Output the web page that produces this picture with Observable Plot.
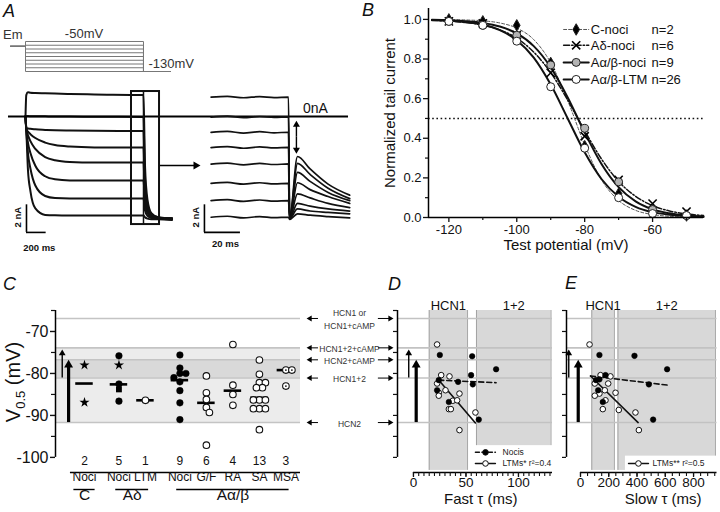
<!DOCTYPE html>
<html>
<head>
<meta charset="utf-8">
<script src="https://cdn.jsdelivr.net/npm/d3@7"></script>
<script src="https://cdn.jsdelivr.net/npm/@observablehq/plot@0.6"></script>
<style>
  html, body { margin: 0; padding: 0; background: #fff; }
  #fig { position: relative; width: 720px; height: 512px; overflow: hidden; background: #fff;
         font-family: "Liberation Sans", Arial, Helvetica, sans-serif; color: #111; }
  #fig svg { position: absolute; overflow: visible; }
  .panel { position: absolute; font-style: italic; font-size: 18px; line-height: 1; }
  .ylab { position: absolute; white-space: nowrap; transform: translate(-50%, -50%) rotate(-90deg); }
</style>
</head>
<body>
<div id="fig">
  <div class="panel" style="left:3px;top:2px">A</div>
  <div class="panel" style="left:362px;top:1px">B</div>
  <div class="panel" style="left:3px;top:275px">C</div>
  <div class="panel" style="left:388px;top:275px">D</div>
  <div class="panel" style="left:565px;top:274px">E</div>
  <div class="ylab" style="left:15px;top:382px;font-size:20px">V<sub style="font-size:13px">0.5</sub> (mV)</div>
</div>
<script>
// ================= DATA =================
// Panel A – voltage protocol (mV) and current traces (nA, ms)
const protoLevels = [-50, -60, -70, -80, -90, -100, -110, -120, -130];
const protoEm = -63;
const protoTail = -130;
const protoTimes = [-152, 0, 1200, 1475]; // holding start, step on, step off, end

const stepTimes = [0, 8, 25, 50, 100, 200, 300, 450, 700, 1200, 1215, 1240, 1280, 1350, 1490];
const stepTraces = [
  [0, 1.55, 1.75, 1.72, 1.70, 1.68, 1.66, 1.63, 1.60, 1.55, -3.5, -6.0, -7.0, -7.3, -7.4],
  [0, 0.02, 0.03, 0.02, 0.02, 0.01, 0.0, 0.0, -0.02, -0.03, -4.5, -6.4, -7.1, -7.3, -7.4],
  [0, -0.85, -0.87, -0.89, -0.93, -0.97, -1.0, -1.02, -1.04, -1.05, -5.0, -6.6, -7.15, -7.35, -7.4],
  [0, -0.9, -1.1, -1.28, -1.56, -1.89, -2.07, -2.18, -2.24, -2.25, -5.4, -6.8, -7.2, -7.35, -7.4],
  [0, -0.9, -1.35, -1.79, -2.35, -2.94, -3.17, -3.29, -3.33, -3.33, -5.9, -6.9, -7.25, -7.35, -7.4],
  [0, -0.9, -1.9, -2.64, -3.57, -4.33, -4.55, -4.63, -4.64, -4.64, -6.3, -7.0, -7.3, -7.4, -7.45],
  [0, -0.95, -2.65, -3.77, -5.0, -5.76, -5.91, -5.94, -5.94, -5.94, -6.8, -7.2, -7.35, -7.4, -7.45],
  [0, -1.0, -3.87, -5.4, -6.66, -7.13, -7.16, -7.17, -7.17, -7.17, -7.3, -7.4, -7.45, -7.45, -7.5]
];
const zoomWindow = [1078, 1363, -7.83, 1.81]; // t1, t2, I1, I2 of the boxed region

const tailTimes = [-43, -34, -25, -16, -8, 0, 0.6, 5, 12, 22, 34];
const tailTraces = [
  [1.40, 1.46, 1.36, 1.44, 1.37, 1.40, -7.4, -2.9, -3.8, -4.9, -5.7],
  [-0.05, 0.02, -0.08, 0.0, -0.06, -0.03, -7.4, -3.4, -4.2, -5.2, -5.95],
  [-1.15, -1.08, -1.2, -1.1, -1.18, -1.14, -7.4, -4.05, -4.7, -5.5, -6.1],
  [-2.25, -2.18, -2.3, -2.2, -2.28, -2.24, -7.4, -4.8, -5.3, -5.8, -6.3],
  [-3.45, -3.38, -3.5, -3.4, -3.48, -3.44, -7.4, -5.6, -5.9, -6.3, -6.6],
  [-4.85, -4.78, -4.9, -4.8, -4.88, -4.84, -7.4, -6.3, -6.5, -6.7, -6.85],
  [-6.1, -6.03, -6.15, -6.05, -6.13, -6.09, -7.4, -6.7, -6.85, -6.95, -7.05],
  [-7.3, -7.23, -7.35, -7.25, -7.33, -7.3, -7.45, -7.05, -7.15, -7.25, -7.35]
];

// Panel B – normalized tail current
const bSeriesNames = ["C-noci", "Aδ-noci", "Aα/β-noci", "Aα/β-LTM"];
const bSeriesN = ["n=2", "n=6", "n=9", "n=26"];
const bPotentials = [-120, -110, -100, -90, -80, -70, -60, -50];
const bCNoci   = [1.00, 0.99, 0.97, 0.78, 0.36, 0.12, 0.03, 0.01];
const bADNoci  = [0.99, 0.98, 0.92, 0.73, 0.41, 0.19, 0.07, 0.03];
const bAabNoci = [0.99, 0.97, 0.92, 0.77, 0.45, 0.18, 0.04, 0.01];
const bAabLTM  = [0.99, 0.97, 0.89, 0.66, 0.35, 0.10, 0.02, 0.01];
const bFitV    = [-125, -120, -115, -110, -105, -100, -95, -90, -85, -80, -75, -70, -65, -60, -55, -50, -45];
const bFitC    = [0.999, 0.999, 0.997, 0.993, 0.982, 0.956, 0.898, 0.781, 0.590, 0.367, 0.189, 0.086, 0.036, 0.015, 0.006, 0.002, 0.001];
const bFitAD   = [0.995, 0.991, 0.984, 0.971, 0.947, 0.905, 0.835, 0.731, 0.593, 0.438, 0.294, 0.182, 0.107, 0.060, 0.033, 0.018, 0.010];
const bFitAabN = [0.998, 0.996, 0.991, 0.982, 0.964, 0.929, 0.865, 0.758, 0.606, 0.429, 0.269, 0.153, 0.081, 0.041, 0.021, 0.010, 0.005];
const bFitLTM  = [0.997, 0.993, 0.986, 0.973, 0.946, 0.895, 0.807, 0.671, 0.500, 0.329, 0.193, 0.105, 0.054, 0.027, 0.014, 0.007, 0.003];

// Panel C – V0.5 per afferent type
const cLabels = ["Noci", "Noci", "LTM", "Noci", "G/F", "RA", "SA", "MSA"];
const cCounts = [2, 5, 1, 9, 6, 4, 13, 3];
const cGroupOf = ["C", "Aδ", "Aδ", "Aα/β", "Aα/β", "Aα/β", "Aα/β", "Aα/β"];
const cGroupNames = ["C", "Aδ", "Aα/β"];
const cMeans = [-82.4, -82.6, -86.4, -81.6, -87.0, -84.1, -85.8, -79.2];
const cPoints = [ // [category index, V0.5 (mV), marker]
  [0, -78.0, "star"], [0, -86.9, "star"],
  [1, -75.8, "filled"], [1, -78.0, "star"], [1, -82.5, "filled"], [1, -83.8, "square"], [1, -86.6, "filled"],
  [2, -86.4, "open"],
  [3, -75.6, "filled"], [3, -78.7, "filled"], [3, -80.0, "filled"], [3, -80.0, "filled"], [3, -81.0, "filled"],
  [3, -82.0, "filled"], [3, -84.1, "filled"], [3, -87.0, "filled"], [3, -91.0, "filled"],
  [4, -80.6, "open"], [4, -84.6, "open"], [4, -86.2, "open"], [4, -88.1, "open"], [4, -89.3, "open"], [4, -97.1, "open"],
  [5, -73.1, "open"], [5, -82.8, "open"], [5, -85.0, "open"], [5, -87.6, "open"],
  [6, -76.8, "open"], [6, -80.2, "open"], [6, -82.2, "open"], [6, -82.2, "open"], [6, -83.4, "open"], [6, -83.4, "open"],
  [6, -86.3, "open"], [6, -86.3, "open"], [6, -86.3, "open"], [6, -88.4, "open"], [6, -88.4, "open"], [6, -88.4, "open"], [6, -93.4, "open"],
  [7, -79.2, "dotted"], [7, -79.2, "dotted"], [7, -83.0, "dotted"]
];
const hcnLevels = [-66.9, -73.9, -76.75, -81.1, -91.7];
const hcnLabels = ["HCN1 or\nHCN1+cAMP", "HCN1+2+cAMP", "HCN2+cAMP", "HCN1+2", "HCN2"];

// Panel D – fast tau
const dRegions = [{label: "HCN1", x1: 15, x2: 51.5}, {label: "1+2", x1: 60, x2: 131}];
const dNocis = [[25.1, -75.6], [24.1, -81.6], [22.5, -84.0], [33.7, -86.8], [42.5, -82.0], [55.9, -75.9], [54.9, -80.4], [56.5, -82.6], [62.2, -91.0], [78.7, -79.0]];
const dLTMs = [[22.5, -73.1], [26.4, -80.4], [34.3, -80.7], [22.5, -82.4], [30.5, -84.0], [24.1, -84.6], [24.1, -85.3], [43.8, -84.8], [37.5, -86.5], [41.6, -86.4], [33.7, -88.5], [35.6, -88.5], [59.0, -89.3], [43.8, -93.5]];
const dFitNocis = [[24.1, -81.6], [78.7, -82.2]];
const dFitLTMs = [[23.2, -81.3], [59.0, -91.8]];

// Panel E – slow tau
const eRegions = [{label: "HCN1", x1: 80, x2: 240}, {label: "1+2", x1: 265, x2: 955}];
const eNocis = [[134, -75.6], [382, -75.8], [613, -79.0], [177, -80.4], [134, -81.4], [110, -81.6], [125, -84.0], [158, -86.8], [484, -82.6], [514, -91.0]];
const eLTMs = [[64, -73.1], [142, -80.4], [212, -80.7], [101, -82.4], [196, -82.4], [134, -84.8], [172, -84.0], [101, -85.3], [248, -84.6], [177, -86.4], [158, -88.5], [271, -88.7], [389, -89.3], [413, -93.5]];
const eFitNocis = [[71, -80.6], [620, -82.8]];
const eFitLTMs = [[71, -80.6], [408, -91.7]];

// ================= HELPERS =================
const FONT = '"Liberation Sans", Arial, Helvetica, sans-serif';
const baseStyle = {background: "transparent", fontFamily: FONT, overflow: "visible", color: "#111"};
const fig = document.getElementById("fig");
function place(svg, left, top) { svg.style.left = left + "px"; svg.style.top = top + "px"; fig.appendChild(svg); }
function triOff(r) { return 2 * Math.sqrt(Math.PI * r * r / (3 * Math.sqrt(3))); }
function vArrow(x, from, to, {w = 1.2, r = 2.6, ppu}) {
  const up = to > from, off = triOff(r);
  const end = to - (up ? 1 : -1) * off / ppu;
  return [
    Plot.ruleX([x], {y1: from, y2: end, stroke: "#000", strokeWidth: w}),
    Plot.dot([x], {x: d => d, y: () => to, dy: up ? off : -off, symbol: "triangle", r, fill: "#000", stroke: "none", rotate: up ? 0 : 180})
  ];
}
function hArrow(y, from, to, {w = 1, r = 2.4, ppu}) {
  const right = to > from, off = triOff(r);
  const end = to - (right ? 1 : -1) * off / ppu;
  return [
    Plot.ruleY([y], {x1: from, x2: end, stroke: "#000", strokeWidth: w}),
    Plot.dot([y], {x: () => to, y: d => d, dx: right ? -off : off, symbol: "triangle", r, fill: "#000", stroke: "none", rotate: right ? 90 : -90})
  ];
}
const blank = () => "";

// ================= PANEL A =================
const msPerPx = 10.17, pxPerNA = 13.8;
const aXDom = [-25 * msPerPx, 335 * msPerPx];
const aYDom = [-134 / pxPerNA, 36 / pxPerNA];

// protocol
const protoData = protoLevels.flatMap(L => [
  {L, t: protoTimes[0], v: protoEm}, {L, t: protoTimes[1], v: protoEm}, {L, t: protoTimes[1], v: L},
  {L, t: protoTimes[2], v: L}, {L, t: protoTimes[2], v: protoTail}, {L, t: protoTimes[3], v: protoTail}
]);
place(Plot.plot({
  width: 360, height: 80, margin: 0, style: baseStyle,
  x: {domain: aXDom, axis: null}, y: {domain: [-154, 59.33], axis: null},
  marks: [
    Plot.line(protoData, {x: "t", y: "v", z: "L", stroke: "#777", strokeWidth: 1}),
    Plot.text([{t: -130, v: -33, s: "Em"}], {x: "t", y: "v", text: "s", fontSize: 13, fill: "#333"}),
    Plot.text([{t: 595, v: -29.5, s: "-50mV"}], {x: "t", y: "v", text: "s", fontSize: 13, fill: "#333"}),
    Plot.text([{t: 1250, v: -109.5, s: "-130mV"}], {x: "t", y: "v", text: "s", fontSize: 13, fill: "#333", textAnchor: "start"})
  ]
}), 0, 0);

// step currents
const stepData = stepTraces.flatMap((vals, k) => vals.map((I, i) => ({k, t: stepTimes[i], I})));
place(Plot.plot({
  width: 360, height: 170, margin: 0, style: baseStyle,
  x: {domain: aXDom, axis: null}, y: {domain: aYDom, axis: null},
  marks: [
    Plot.line(stepData, {x: "t", y: "I", z: "k", curve: "monotone-x", stroke: "#111", strokeWidth: 2}),
    Plot.ruleY([0], {x1: -173, x2: 3285, stroke: "#000", strokeWidth: 2.2}),
    Plot.rect([zoomWindow], {x1: d => d[0], x2: d => d[1], y1: d => d[2], y2: d => d[3], fill: "none", stroke: "#111", strokeWidth: 2}),
    Plot.ruleX([protoTimes[2]], {y1: zoomWindow[2], y2: zoomWindow[3], stroke: "#111", strokeWidth: 1.5}),
    ...hArrow(-3.55, 1373, 1780, {w: 1.5, r: 3, ppu: 1 / msPerPx}),
    Plot.ruleX([10], {y1: -6.4, y2: -8.4, stroke: "#000", strokeWidth: 1.6}),
    Plot.ruleY([-8.4], {x1: 10, x2: 210, stroke: "#000", strokeWidth: 1.6}),
    Plot.text([{t: -75, I: -7.3, s: "2 nA"}], {x: "t", y: "I", text: "s", rotate: -90, fontSize: 9.5, fontWeight: "bold"}),
    Plot.text([{t: 140, I: -9.5, s: "200 ms"}], {x: "t", y: "I", text: "s", fontSize: 9.5, fontWeight: "bold"})
  ]
}), 0, 80);

// inset (tail currents)
const tailData = tailTraces.flatMap((vals, k) => vals.map((I, i) => ({k, t: tailTimes[i], I})));
place(Plot.plot({
  width: 180, height: 170, margin: 0, style: baseStyle,
  x: {domain: [-60, 40], axis: null}, y: {domain: aYDom, axis: null},
  marks: [
    Plot.line(tailData, {x: "t", y: "I", z: "k", curve: "monotone-x", stroke: "#111", strokeWidth: 1.7}),
    ...vArrow(4.4, -1.5, -0.3, {w: 1.4, r: 2.6, ppu: pxPerNA}),
    ...vArrow(4.4, -1.5, -2.7, {w: 1.4, r: 2.6, ppu: pxPerNA}),
    Plot.text([{t: 15, I: 0.6, s: "0nA"}], {x: "t", y: "I", text: "s", fontSize: 14}),
    Plot.ruleX([-46.7], {y1: -6.4, y2: -8.4, stroke: "#000", strokeWidth: 1.6}),
    Plot.ruleY([-8.4], {x1: -46.7, x2: -26.7, stroke: "#000", strokeWidth: 1.6}),
    Plot.text([{t: -51.5, I: -7.3, s: "2 nA"}], {x: "t", y: "I", text: "s", rotate: -90, fontSize: 9.5, fontWeight: "bold"}),
    Plot.text([{t: -35, I: -9.2, s: "20 ms"}], {x: "t", y: "I", text: "s", fontSize: 9.5, fontWeight: "bold"})
  ]
}), 180, 80);

// ================= PANEL B =================
const bVals = [bCNoci, bADNoci, bAabNoci, bAabLTM];
const bFits = [bFitC, bFitAD, bFitAabN, bFitLTM];
const bSty = [
  {stroke: "#555", sw: 1, dash: "3,2", symbol: "diamond", fill: "#000", r: 3.5},
  {stroke: "#111", sw: 1.5, dash: "6,2,1.5,2", symbol: "times", fill: "none", r: 3.8},
  {stroke: "#111", sw: 2, dash: null, symbol: "circle", fill: "#b3b3b3", r: 4},
  {stroke: "#111", sw: 2, dash: null, symbol: "circle", fill: "#fff", r: 4}
];
function bDot(data, s, x = "v", y = "y") {
  const st = bSty[s];
  if (st.symbol === "times") return Plot.dot(data, {x, y, symbol: "times", r: st.r, stroke: "#000", strokeWidth: 1.6, fill: "none"});
  return Plot.dot(data, {x, y, symbol: st.symbol, r: st.r, fill: st.fill, stroke: "#222", strokeWidth: 1});
}
const bLegendY = [0.949, 0.869, 0.783, 0.697];
place(Plot.plot({
  width: 360, height: 255, marginLeft: 68, marginRight: 17, marginTop: 8, marginBottom: 38, style: baseStyle,
  x: {domain: [-126, -45]}, y: {domain: [0, 1.055]},
  marks: [
    Plot.ruleY([0.5], {stroke: "#111", strokeWidth: 1.6, strokeDasharray: "1.6,2.6"}),
    ...bFits.map((f, s) => Plot.line(bFitV.map((v, i) => ({v, y: f[i]})), {x: "v", y: "y", curve: "monotone-x", stroke: bSty[s].stroke, strokeWidth: bSty[s].sw, strokeDasharray: bSty[s].dash})),
    ...bVals.map((vals, s) => bDot(bPotentials.map((v, i) => ({v, y: vals[i]})), s)),
    // legend
    ...bSeriesNames.map((name, s) => Plot.line([{v: -86.2, y: bLegendY[s]}, {v: -78.8, y: bLegendY[s]}], {x: "v", y: "y", stroke: bSty[s].stroke, strokeWidth: bSty[s].sw, strokeDasharray: bSty[s].dash})),
    ...bSeriesNames.map((name, s) => bDot([{v: -82.5, y: bLegendY[s]}], s)),
    Plot.text(bSeriesNames, {x: () => -78.2, y: (d, i) => bLegendY[i], text: d => d, textAnchor: "start", fontSize: 13}),
    Plot.text(bSeriesN, {x: () => -60.3, y: (d, i) => bLegendY[i], text: d => d, textAnchor: "start", fontSize: 13}),
    // axes
    Plot.ruleX([-126], {y1: 0, y2: 1.055, stroke: "#000", strokeWidth: 1.5}),
    Plot.ruleY([0], {stroke: "#000", strokeWidth: 1.5}),
    Plot.axisX([-120, -100, -80, -60], {tickSize: 5, tickPadding: 2, fontSize: 13, label: null, tickFormat: d => String(d), strokeWidth: 1.3}),
    Plot.axisX([-110, -90, -70, -50], {tickSize: 3, label: null, tickFormat: blank, strokeWidth: 1.2}),
    Plot.axisY([0, 0.2, 0.4, 0.6, 0.8, 1.0], {tickSize: 5, tickPadding: 2, fontSize: 13, label: null, tickFormat: d3.format(".1f"), strokeWidth: 1.3}),
    Plot.axisY([0.1, 0.3, 0.5, 0.7, 0.9], {tickSize: 3, label: null, tickFormat: blank, strokeWidth: 1.2}),
    Plot.text(["Normalized tail current"], {x: () => -126, y: () => 0.5275, dx: -38, rotate: -90, fontSize: 15, text: d => d}),
    Plot.text(["Test potential (mV)"], {frameAnchor: "bottom", dy: 32, fontSize: 15, text: d => d})
  ]
}), 360, 0);

// ================= PANEL C =================
const yDomLow = [-103.6, -65];
const pxPerMV = 162 / 38.6;
const cPxPerSlot = 26.5;
const cSlot = cGroupOf.map((g, i) => i + 0.3 * cGroupNames.indexOf(g));
// simple beeswarm to separate overlapping markers
function swarm(points) {
  const out = [];
  for (const [cat, pts] of d3.group(points, p => p[0])) {
    const placed = [];
    for (const p of pts.slice().sort((a, b) => b[1] - a[1])) {
      const py = -p[1] * pxPerMV;
      for (let k = 0; k < 40; k++) {
        const off = k === 0 ? 0 : (k % 2 ? 1 : -1) * Math.ceil(k / 2) * 3;
        if (placed.every(q => (off - q.off) ** 2 + (py - q.py) ** 2 >= 5.2 * 5.2)) {
          placed.push({off, py});
          out.push({cat, v: p[1], kind: p[2], x: cSlot[cat] + off / cPxPerSlot});
          break;
        }
      }
    }
  }
  return out;
}
const cSw = swarm(cPoints);
const idx = d3.range(cLabels.length);
const cGroups = cGroupNames.map(g => {
  const members = idx.filter(i => cGroupOf[i] === g);
  const pad = members.length === 1 ? 0.4 : 0.12;
  return {g, x1: cSlot[members[0]] - pad, x2: cSlot[members[members.length - 1]] + pad, xm: (cSlot[members[0]] + cSlot[members[members.length - 1]]) / 2};
});
const cXDom = [-1.094, 8.151];
place(Plot.plot({
  width: 400, height: 252, marginLeft: 55, marginRight: 100, marginTop: 50, marginBottom: 40, style: baseStyle,
  x: {domain: cXDom, axis: null}, y: {domain: yDomLow},
  marks: [
    Plot.rect([0], {x1: cXDom[0], x2: cXDom[1], y1: hcnLevels[4], y2: hcnLevels[1], fill: "#ececec"}),
    Plot.rect([0], {x1: cXDom[0], x2: cXDom[1], y1: hcnLevels[3], y2: hcnLevels[2], fill: "#d9d9d9"}),
    Plot.ruleY(hcnLevels, {x1: cXDom[0], x2: cXDom[1], stroke: "#c4c4c4", strokeWidth: 1.6}),
    ...vArrow(-0.84, hcnLevels[3], hcnLevels[1] - 0.4, {w: 1.4, r: 2.5, ppu: pxPerMV}),
    ...vArrow(-0.60, hcnLevels[4], hcnLevels[2], {w: 3.2, r: 3.3, ppu: pxPerMV}),
    Plot.ruleY(idx, {y: i => cMeans[i], x1: i => cSlot[i] - 0.33, x2: i => cSlot[i] + 0.33, stroke: "#000", strokeWidth: 2.6}),
    Plot.dot(cSw.filter(d => d.kind === "star"), {x: "x", y: "v", symbol: "star", r: 3.2, fill: "#000", stroke: "none"}),
    Plot.dot(cSw.filter(d => d.kind === "filled"), {x: "x", y: "v", r: 3.3, fill: "#000", stroke: "#000", strokeWidth: 0.5}),
    Plot.dot(cSw.filter(d => d.kind === "square"), {x: "x", y: "v", symbol: "square", r: 3.3, fill: "#000", stroke: "none"}),
    Plot.dot(cSw.filter(d => d.kind === "open" || d.kind === "dotted"), {x: "x", y: "v", r: 3.3, fill: "#fff", stroke: "#111", strokeWidth: 1.1}),
    Plot.dot(cSw.filter(d => d.kind === "dotted"), {x: "x", y: "v", r: 0.9, fill: "#111", stroke: "none"}),
    // right-side HCN annotations
    Plot.text(hcnLevels, {x: () => 10.0, y: d => d, text: (d, i) => hcnLabels[i], fontSize: 8.5, lineHeight: 1.45, fill: "#333"}),
    ...hcnLevels.flatMap(l => [
      ...hArrow(l, 8.83, 8.38, {w: 1, r: 2.2, ppu: cPxPerSlot}),
      ...hArrow(l, 11.09, 11.66, {w: 1, r: 2.2, ppu: cPxPerSlot})
    ]),
    // axes
    Plot.ruleX([cXDom[0]], {y1: -65, y2: -100, stroke: "#000", strokeWidth: 1.5}),
    Plot.axisY([-70, -80, -90, -100], {tickSize: 5, tickPadding: 2, fontSize: 16, label: null, tickFormat: d => String(d), strokeWidth: 1.4}),
    Plot.axisY([-65, -75, -85, -95], {tickSize: 4, label: null, tickFormat: blank, strokeWidth: 1.2}),
    Plot.ruleY([yDomLow[0]], {x1: -0.53, x2: cXDom[1], stroke: "#000", strokeWidth: 1.4}),
    Plot.text(idx, {x: i => cSlot[i], frameAnchor: "bottom", dy: -8, text: i => String(cCounts[i]), fontSize: 12}),
    Plot.text(idx, {x: i => cSlot[i], frameAnchor: "bottom", dy: 8.5, text: i => cLabels[i], fontSize: 12}),
    Plot.ruleY(cGroups, {y: () => yDomLow[0], x1: "x1", x2: "x2", dy: 17, stroke: "#000", strokeWidth: 1.4}),
    Plot.text(cGroups, {x: "xm", frameAnchor: "bottom", dy: 27, text: "g", fontSize: 15.5})
  ]
}), 0, 260);

// ================= PANELS D & E =================
function tauPanel(cfg) {
  return Plot.plot({
    width: cfg.width, height: 252, marginLeft: cfg.ml, marginRight: cfg.mr, marginTop: 50, marginBottom: 40, style: baseStyle,
    x: {domain: cfg.xDom, axis: null}, y: {domain: yDomLow, axis: null},
    marks: [
      Plot.rect(cfg.regions, {x1: "x1", x2: "x2", y1: yDomLow[0] + 0.5, y2: -65, fill: "#d8d8d8"}),
      Plot.ruleX(cfg.regions.flatMap(r => [r.x1, r.x2]), {y1: yDomLow[0] + 0.5, y2: -65, stroke: "#9c9c9c", strokeWidth: 0.9}),
      Plot.ruleY(hcnLevels, {stroke: "#c2c2c2", strokeWidth: 1.6}),
      Plot.text(cfg.regions, {x: d => (d.x1 + d.x2) / 2, frameAnchor: "top", dy: -10, text: "label", fontSize: 13}),
      ...vArrow(cfg.arrowX[0], hcnLevels[3], hcnLevels[1] - 0.4, {w: 1.4, r: 2.5, ppu: pxPerMV}),
      ...vArrow(cfg.arrowX[1], hcnLevels[4], hcnLevels[2], {w: 3.2, r: 3.3, ppu: pxPerMV}),
      Plot.line(cfg.fitNocis, {x: d => d[0], y: d => d[1], stroke: "#111", strokeWidth: 1.6, strokeDasharray: "5,3"}),
      Plot.line(cfg.fitLTMs, {x: d => d[0], y: d => d[1], stroke: "#111", strokeWidth: 1.6}),
      Plot.dot(cfg.ltms, {x: d => d[0], y: d => d[1], r: 2.8, fill: "#fff", stroke: "#111", strokeWidth: 1}),
      Plot.dot(cfg.nocis, {x: d => d[0], y: d => d[1], r: 2.8, fill: "#000", stroke: "#000", strokeWidth: 0.5}),
      // legend
      Plot.rect([cfg.legBox], {x1: d => d[0], x2: d => d[1], y1: d => d[2], y2: d => d[3], fill: "#fff"}),
      ...cfg.legRows.flatMap(r => [
        Plot.line([[r.x1, r.y], [r.x2, r.y]], {x: d => d[0], y: d => d[1], stroke: "#111", strokeWidth: 1.5, strokeDasharray: r.dash}),
        Plot.dot([[r.xm, r.y]], {x: d => d[0], y: d => d[1], r: 2.8, fill: r.fill, stroke: "#111", strokeWidth: 1}),
        Plot.text([r], {x: "xt", y: "y", text: "text", textAnchor: "start", fontSize: 8.5, fill: "#222"})
      ]),
      // axes
      Plot.ruleX([cfg.xDom[0]], {y1: -65, y2: -100, stroke: "#000", strokeWidth: 1.5}),
      Plot.axisY(d3.range(-65, -101, -5), {tickSize: 4, label: null, tickFormat: blank, strokeWidth: 1.2}),
      Plot.ruleY([yDomLow[0]], {x1: 0, x2: cfg.xDom[1], stroke: "#000", strokeWidth: 1.5}),
      Plot.axisX(cfg.minor, {tickSize: 4, label: null, tickFormat: blank, strokeWidth: 1.1}),
      Plot.axisX(cfg.ticks, {tickSize: 5, tickPadding: 0, fontSize: 13.5, label: null, tickFormat: d => String(d), strokeWidth: 1.3}),
      Plot.text([cfg.xLabel], {x: () => cfg.labelX, frameAnchor: "bottom", dy: 31, text: d => d, fontSize: 15})
    ]
  });
}
place(tauPanel({
  width: 170, ml: 7, mr: 8, xDom: [-15.2, 132.4],
  regions: dRegions, nocis: dNocis, ltms: dLTMs, fitNocis: dFitNocis, fitLTMs: dFitLTMs,
  arrowX: [-4.5, 2.6], ticks: [0, 50, 100], minor: d3.range(0, 131, 5),
  xLabel: "Fast τ (ms)", labelX: 64,
  legBox: [55.9, 132.4, -103.3, -97.2],
  legRows: [
    {x1: 59, x2: 78, xm: 68.6, xt: 84.8, y: -98.8, dash: "4,2.5", fill: "#000", text: "Nocis"},
    {x1: 59, x2: 78, xm: 68.6, xt: 84.8, y: -101.45, dash: null, fill: "#fff", text: "LTMs* r²=0.4"}
  ]
}), 390, 260);
place(tauPanel({
  width: 160, ml: 6, mr: 3.5, xDom: [-99, 966],
  regions: eRegions, nocis: eNocis, ltms: eLTMs, fitNocis: eFitNocis, fitLTMs: eFitLTMs,
  arrowX: [-83, -16], ticks: [0, 200, 400, 600, 800], minor: d3.range(0, 951, 50),
  xLabel: "Slow τ (ms)", labelX: 585,
  legBox: [318, 966, -103.3, -99.7],
  legRows: [
    {x1: 340, x2: 481, xm: 410, xt: 510, y: -101.45, dash: null, fill: "#fff", text: "LTMs** r²=0.5"}
  ]
}), 560, 260);
</script>
</body>
</html>
